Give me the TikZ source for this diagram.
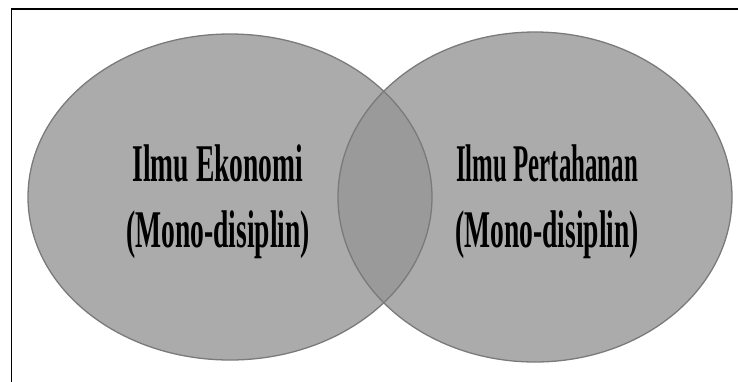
\documentclass[tikz,border=0pt]{standalone}
\usepackage{fontspec}
\setmainfont{Liberation Serif}
\usetikzlibrary{shapes.geometric}
\definecolor{vennfill}{gray}{0.59}
\definecolor{vennline}{gray}{0.48}
\newcommand{\narrowtext}[2][0.52]{\scalebox{#1}[1]{#2}}

\begin{document}
\begin{tikzpicture}[x=1pt,y=-1pt,
    vennarea/.style={ellipse, fill=vennfill, fill opacity=0.8, inner sep=0pt},
    vennrim/.style={ellipse, draw=vennline, line width=1.3pt, inner sep=0pt},
    vennlabel/.style={font=\fontsize{53}{66}\selectfont\bfseries, align=center, text=black}]
    \useasboundingbox (0,0) rectangle (738,381);
    \clip (0,0) rectangle (738,381);
    \draw [line width=1.6pt] (11.5,9) rectangle (760,400); % frame runs off to the right and bottom
    \foreach \n/\x/\w/\h in {ekonomi/230/404/326, pertahanan/535/394/330} {
        \node [vennarea, minimum width=\w pt, minimum height=\h pt] (\n) at (\x,197) {};
    }
    \foreach \n/\w/\h in {ekonomi/404/326, pertahanan/394/330} {
        \node [vennrim, minimum width=\w pt, minimum height=\h pt] at (\n) {};
    }
    \node [vennlabel] (ekonomitext) at (218,202) {\narrowtext{Ilmu Ekonomi}\\\narrowtext{(Mono-disiplin)}};
    \node [vennlabel] (pertahanantext) at (547,202) {\narrowtext[0.47]{Ilmu Pertahanan}\\\narrowtext{(Mono-disiplin)}};
\end{tikzpicture}
\end{document}
